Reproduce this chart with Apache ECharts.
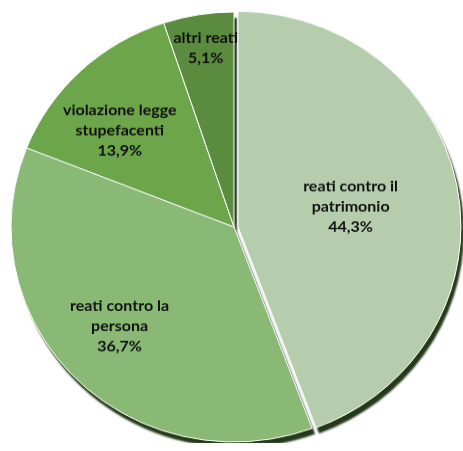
<!DOCTYPE html>
<html>
<head>
<meta charset="utf-8">
<style>
  html, body { margin: 0; padding: 0; background: #ffffff; overflow: hidden; }
  #chart { width: 463px; height: 451px; transform-origin: 234px 227px; transform: scaleY(0.964); }
</style>
<script src="https://cdn.jsdelivr.net/npm/echarts@6/dist/echarts.min.js"></script>
</head>
<body>
<div id="chart"></div>
<script>
// Categories (wrapped as they appear inside the slices) and their shares in percent
const categories = [
  'reati contro il\npatrimonio',
  'reati contro la\npersona',
  'violazione legge\nstupefacenti',
  'altri reati'
];
const shares = [44.3, 36.7, 13.9, 5.1];
const colors = ['#b5cdac', '#8ab975', '#6ca54a', '#5a8b3e'];

// Pie geometry in pixels (the container is flattened slightly into an ellipse)
const CX = 234, CY = 227, R = 223, EXPLODE = 4;
// Label placement per slice: [fraction of radius, angular nudge in degrees]
const labelPlacement = [[0.44, -1], [0.69, 2.5], [0.68, -5.5], [0.84, 0.5]];

const total = shares.reduce((a, b) => a + b, 0);
let acc = 0;
const midAngles = shares.map(v => { const m = (acc + v / 2) / total * 360; acc += v; return m; });

function fmt(v) { return v.toFixed(1).replace('.', ',') + '%'; }

const pieData = categories.map((name, i) => ({
  name: name,
  value: shares[i],
  selected: i === 0,
  itemStyle: { color: colors[i] },
  select: { itemStyle: { color: colors[i] } }
}));

const common = {
  type: 'pie',
  center: [CX, CY],
  radius: [0, R],
  startAngle: 90,
  clockwise: true,
  selectedMode: 'single',
  selectedOffset: EXPLODE,
  avoidLabelOverlap: false,
  animation: false,
  silent: true,
  emphasis: { disabled: true },
  data: pieData
};

const chart = echarts.init(document.getElementById('chart'), null, { renderer: 'canvas' });
chart.setOption({
  backgroundColor: 'transparent',
  series: [
    // Underlay that only casts the drop shadow
    Object.assign({}, common, {
      z: 1,
      label: { show: false },
      labelLine: { show: false },
      itemStyle: {
        borderWidth: 0,
        shadowBlur: 2,
        shadowOffsetX: 3,
        shadowOffsetY: 6,
        shadowColor: 'rgba(36,56,26,1)'
      }
    }),
    // Visible slices with labels
    Object.assign({}, common, {
      z: 2,
      itemStyle: { borderColor: '#ffffff', borderWidth: 1 },
      labelLine: { show: false },
      label: {
        show: true,
        position: 'inside',
        color: '#111111',
        fontFamily: 'Lato',
        fontWeight: 'bold',
        fontSize: 16,
        lineHeight: 21,
        align: 'center',
        formatter: p => p.name + '\n' + fmt(p.value)
      },
      labelLayout: function (p) {
        const i = p.dataIndex;
        const a = (midAngles[i] + labelPlacement[i][1]) * Math.PI / 180;
        const d = labelPlacement[i][0] * R;
        const ea = midAngles[i] * Math.PI / 180;
        const ex = i === 0 ? EXPLODE : 0;
        return {
          x: CX + d * Math.sin(a) + ex * Math.sin(ea),
          y: CY - d * Math.cos(a) - ex * Math.cos(ea),
          align: 'center',
          verticalAlign: 'middle'
        };
      }
    })
  ]
});
</script>
</body>
</html>
